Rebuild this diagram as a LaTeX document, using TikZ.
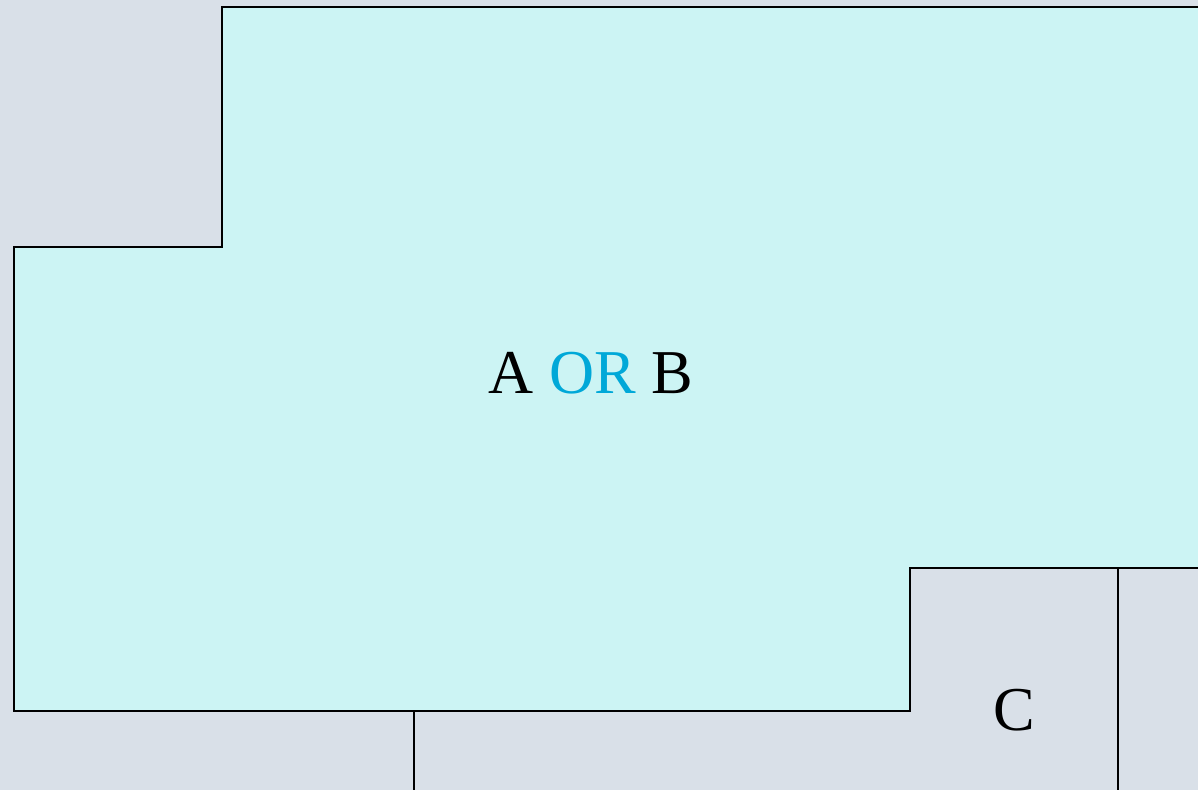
\documentclass[tikz,border=0pt]{standalone}
\usepackage{fontspec}
\setmainfont{Liberation Serif}
\usepackage{xcolor}
\usetikzlibrary{positioning}
\definecolor{bgray}{HTML}{D9E0E8}
\definecolor{zonecyan}{HTML}{CCF4F4}
\definecolor{orblue}{HTML}{00A8D8}

\begin{document}
\begin{tikzpicture}[x=0.02cm, y=-0.02cm, line width=1.1pt,
    lbl/.style={font=\fontsize{35.5}{42}\selectfont, inner sep=0pt}]
    \clip (0,0) rectangle (1198,790);
    \fill[bgray] (0,0) rectangle (1198,790);

    % merged zone
    \draw[fill=zonecyan] (222,7) -- (1210,7) -- (1210,568) -- (910,568)
        -- (910,711) -- (14,711) -- (14,247) -- (222,247) -- cycle;
    \draw (414,711) -- (414,800);
    \draw (1118,568) -- (1118,800);

    \node[lbl] (ab) at (591,373) {A \textcolor{orblue}{OR} B};
    \node[lbl] (c) at (1014,710) {C};
\end{tikzpicture}
\end{document}
